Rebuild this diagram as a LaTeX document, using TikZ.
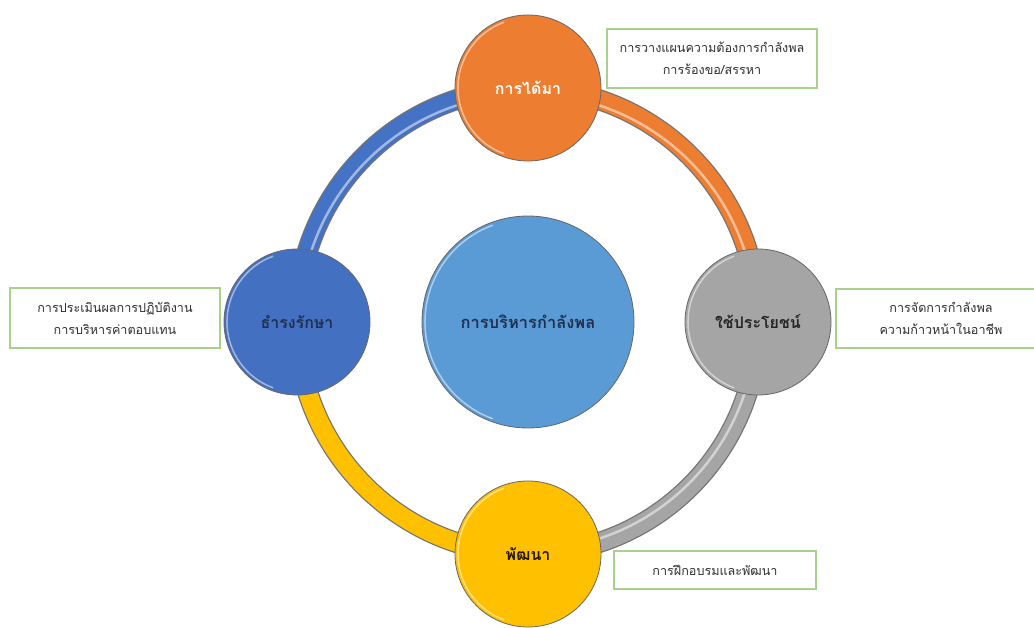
\documentclass[tikz,border=0pt]{standalone}
\usepackage{fontspec}
\newfontfamily\thaifont[Script=Thai]{Loma}
\definecolor{cblue}{HTML}{4472C4}
\definecolor{cleft}{HTML}{4470C2}
\definecolor{corange}{HTML}{ED7D31}
\definecolor{cgray}{HTML}{A5A5A5}
\definecolor{cgold}{HTML}{FFC000}
\definecolor{ccenter}{HTML}{5B9BD5}
\definecolor{boxgreen}{HTML}{A9D18E}
\definecolor{navy}{HTML}{1F3050}
\definecolor{txtgray}{HTML}{303030}
\tikzset{
  ringout/.style={line width=21pt, draw=black!55},
  ringin/.style={line width=18.5pt},
  ringhi/.style={line width=2.5pt, draw=white, opacity=0.5},
  hub/.style={circle, minimum size=146pt, inner sep=0pt, draw=black!60, line width=0.8pt, font=\thaifont\bfseries\fontsize{16}{18}\selectfont},
  core/.style={circle, minimum size=212pt, inner sep=0pt, draw=black!60, line width=0.8pt, fill=ccenter, text=navy, font=\thaifont\bfseries\fontsize{16.5}{18}\selectfont},
  note/.style={draw=boxgreen, line width=1.2pt, fill=white, minimum width=210pt, align=center, text=txtgray, font=\thaifont\fontsize{12.6}{22}\selectfont},
}
\begin{document}
\begin{tikzpicture}[x=1pt,y=1pt]
\useasboundingbox (0,0) rectangle (1034,627);
\fill[white] (0,0) rectangle (1034,627);
\coordinate (ctr) at (528,305);
\coordinate (pt) at (528,539);
\coordinate (pl) at (297,305);
\coordinate (pr) at (758,305);
\coordinate (pb) at (528,73);
% ring
\draw[ringout] (pt) to[bend right=45] (pl);
\draw[ringin, draw=cblue] (pt) to[bend right=45] (pl);
\draw[ringout] (pr) to[bend right=45] (pt);
\draw[ringin, draw=corange] (pr) to[bend right=45] (pt);
\draw[ringout] (pb) to[bend right=45] (pr);
\draw[ringin, draw=cgray] (pb) to[bend right=45] (pr);
\draw[ringout] (pl) to[bend right=45] (pb);
\draw[ringin, draw=cgold] (pl) to[bend right=45] (pb);
% highlights
\draw[ringhi] (ctr) ++(95:228) arc (95:175:228);
\draw[ringhi] (ctr) ++(5:228) arc (5:85:228);
\draw[ringhi] (ctr) ++(275:228) arc (275:355:228);
% hubs
\node[hub, fill=corange, text=white] (top) at (pt) {การได้มา};
\node[hub, fill=cleft, text=navy] (left) at (pl) {ธำรงรักษา};
\node[hub, fill=cgray, text=black!85] (right) at (pr) {ใช้ประโยชน์};
\node[hub, fill=cgold, text=black!80!brown] (bottom) at (pb) {พัฒนา};
\node[core] (center) at (ctr) {การบริหารกำลังพล};
% rim highlights
\foreach \n in {top,left,right,bottom}{
  \draw[white, opacity=0.5, line width=1.5pt] (\n.center) ++(110:70) arc (110:250:70);
}
\draw[white, opacity=0.5, line width=1.5pt] (center.center) ++(110:103) arc (110:250:103);
% notes
\node[note, minimum height=59pt] (ntop) at (712,568.5) {การวางแผนความต้องการกำลังพล\\การร้องขอ/สรรหา};
\node[note, minimum height=60pt] (nleft) at (115,309) {การประเมินผลการปฏิบัติงาน\\การบริหารค่าตอบแทน};
\node[note, minimum height=59pt] (nright) at (941,308.5) {การจัดการกำลังพล\\ความก้าวหน้าในอาชีพ};
\node[note, minimum width=202pt, minimum height=38pt] (nbottom) at (715,57) {การฝึกอบรมและพัฒนา};
\end{tikzpicture}
\end{document}
